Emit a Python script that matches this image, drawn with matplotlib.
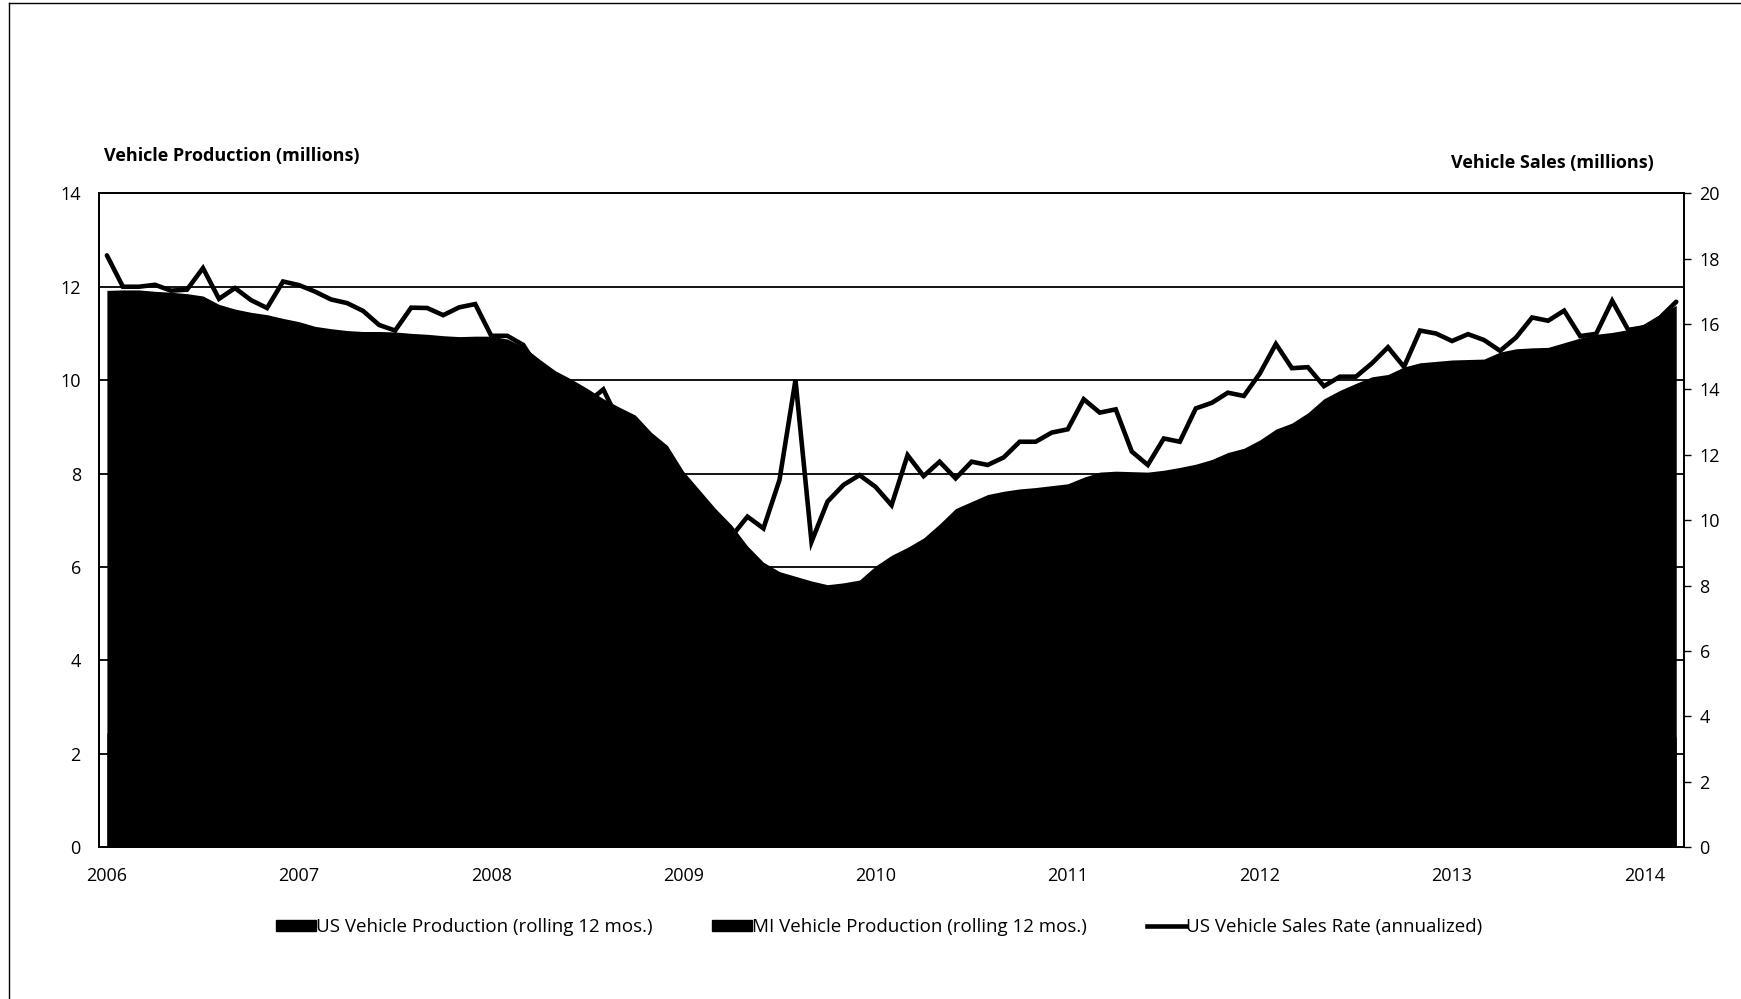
import numpy as np
import matplotlib
matplotlib.use("Agg")
import matplotlib.pyplot as plt
from matplotlib.patches import Patch
from matplotlib.lines import Line2D

plt.rcParams['font.family'] = ['Open Sans', 'DejaVu Sans']

# monthly values, Jan 2006 - Mar 2014
us_prod = [11.92, 11.93, 11.93, 11.90, 11.88, 11.85, 11.80, 11.62, 11.52, 11.45, 11.40, 11.32,
           11.25, 11.15, 11.10, 11.06, 11.04, 11.04, 11.03, 11.00, 10.98, 10.95, 10.93, 10.94,
           10.94, 10.88, 10.72, 10.45, 10.20, 10.02, 9.82, 9.60, 9.42, 9.25, 8.88, 8.60,
           8.05, 7.65, 7.25, 6.90, 6.45, 6.10, 5.90, 5.80, 5.70, 5.62, 5.66, 5.72,
           6.02, 6.25, 6.42, 6.62, 6.92, 7.25, 7.40, 7.55, 7.62, 7.67, 7.70, 7.74,
           7.78, 7.92, 8.03, 8.05, 8.04, 8.03, 8.07, 8.13, 8.20, 8.30, 8.45, 8.54,
           8.72, 8.95, 9.08, 9.30, 9.60, 9.78, 9.93, 10.07, 10.12, 10.28, 10.37, 10.40,
           10.43, 10.44, 10.45, 10.60, 10.67, 10.69, 10.70, 10.80, 10.90, 10.98, 11.02, 11.08,
           11.20, 11.40, 11.60]

# MI production sits entirely under the US area (not separable in the picture), rough estimate
mi_prod = [2.45, 2.45, 2.44, 2.43, 2.42, 2.40, 2.38, 2.35, 2.33, 2.30, 2.28, 2.25,
           2.22, 2.20, 2.18, 2.15, 2.13, 2.12, 2.10, 2.08, 2.06, 2.05, 2.03, 2.02,
           2.00, 1.98, 1.95, 1.90, 1.85, 1.80, 1.75, 1.70, 1.65, 1.60, 1.52, 1.45,
           1.35, 1.28, 1.20, 1.12, 1.04, 0.98, 0.95, 0.93, 0.92, 0.91, 0.93, 0.95,
           1.00, 1.05, 1.10, 1.16, 1.22, 1.30, 1.35, 1.40, 1.43, 1.46, 1.48, 1.50,
           1.52, 1.55, 1.58, 1.60, 1.60, 1.61, 1.63, 1.65, 1.68, 1.70, 1.73, 1.76,
           1.80, 1.84, 1.88, 1.92, 1.97, 2.00, 2.03, 2.06, 2.08, 2.10, 2.12, 2.13,
           2.14, 2.15, 2.16, 2.18, 2.20, 2.21, 2.22, 2.24, 2.26, 2.28, 2.29, 2.30,
           2.32, 2.34, 2.36]

us_sales = [18.10, 17.14, 17.14, 17.20, 17.02, 17.05, 17.71, 16.77, 17.10, 16.73, 16.49, 17.30,
            17.19, 16.99, 16.75, 16.64, 16.40, 15.97, 15.80, 16.50, 16.49, 16.27, 16.51, 16.61,
            15.64, 15.64, 15.36, 14.60, 14.30, 14.00, 13.60, 14.00, 13.00, 12.60, 12.20, 11.50,
            10.80, 10.20, 9.70, 9.50, 10.11, 9.75, 11.23, 14.29, 9.34, 10.57, 11.08, 11.38,
            11.02, 10.46, 11.99, 11.35, 11.79, 11.28, 11.79, 11.69, 11.92, 12.40, 12.40, 12.68,
            12.78, 13.70, 13.29, 13.39, 12.10, 11.69, 12.50, 12.40, 13.42, 13.59, 13.90, 13.80,
            14.49, 15.39, 14.65, 14.68, 14.10, 14.39, 14.39, 14.80, 15.29, 14.69, 15.80, 15.71,
            15.48, 15.69, 15.51, 15.18, 15.59, 16.20, 16.10, 16.41, 15.63, 15.70, 16.71, 15.82,
            15.90, 16.20, 16.68]

years = ['2006', '2007', '2008', '2009', '2010', '2011', '2012', '2013', '2014']

x = np.arange(len(us_prod))

fig = plt.figure(figsize=(17.41, 9.99), dpi=100)
ax = fig.add_axes([0.0568, 0.1519, 0.9106, 0.6547])

ax.set_axisbelow(True)
ax.grid(axis='y', color='black', linewidth=1.3)
ax.fill_between(x, 0, us_prod, color='black', linewidth=0, zorder=2)
ax.fill_between(x, 0, mi_prod, color='black', linewidth=0, zorder=3)

ax.set_xlim(-0.5, len(x) - 0.5)
ax.set_ylim(0, 14)
ax.set_yticks(range(0, 15, 2))
ax.set_xticks(np.arange(0, len(x), 12))
ax.set_xticklabels(years)
ax.tick_params(axis='x', length=0, pad=14, labelsize=13)
ax.tick_params(axis='y', length=0, pad=13, labelsize=13)
for s in ax.spines.values():
    s.set_linewidth(1.3)

ax2 = ax.twinx()
ax2.plot(x, us_sales, color='black', linewidth=3.3, solid_capstyle='round',
         solid_joinstyle='miter', zorder=4)
ax2.set_ylim(0, 20)
ax2.set_yticks(range(0, 21, 2))
ax2.tick_params(axis='y', length=5, width=1, pad=6, labelsize=13)
for s in ax2.spines.values():
    s.set_linewidth(1.3)

fig.text(0.0595, 0.844, 'Vehicle Production (millions)', fontsize=13,
         fontweight='bold', ha='left', va='center')
fig.text(0.950, 0.837, 'Vehicle Sales (millions)', fontsize=13,
         fontweight='bold', ha='right', va='center')

handles = [Patch(facecolor='black', edgecolor='black'),
           Patch(facecolor='black', edgecolor='black'),
           Line2D([], [], color='black', linewidth=3.3)]
labels = ['US Vehicle Production (rolling 12 mos.)',
          'MI Vehicle Production (rolling 12 mos.)',
          'US Vehicle Sales Rate (annualized)']
fig.legend(handles, labels, loc='center', bbox_to_anchor=(0.505, 0.072), ncol=3,
           frameon=False, fontsize=13.5, handlelength=2.1, handleheight=0.5,
           handletextpad=0.0, columnspacing=3.2)

# outer frame of the scanned page
fig.add_artist(Line2D([0.005, 0.005], [0.0, 0.997], transform=fig.transFigure,
                      color='black', linewidth=1))
fig.add_artist(Line2D([0.005, 1.0], [0.997, 0.997], transform=fig.transFigure,
                      color='black', linewidth=1))

fig.savefig('out.png', dpi=100)
